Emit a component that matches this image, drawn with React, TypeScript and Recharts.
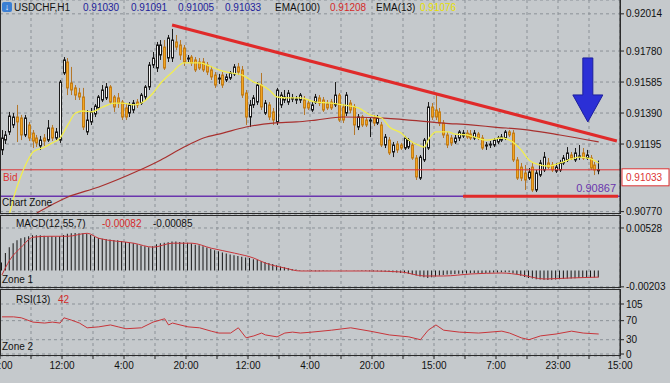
import {
  Bar,
  CartesianGrid,
  ComposedChart,
  Line,
  ReferenceDot,
  ReferenceLine,
  XAxis,
  YAxis,
} from "recharts"

document.body.style.margin = "0"

const timeLabels = ["20:00", "12:00", "4:00", "20:00", "12:00", "4:00", "20:00", "15:00", "7:00", "23:00", "15:00"]
const gridTicks = [0, 8, 16, 24, 32, 40, 48, 56, 64, 72, 80, 88, 96, 104, 112, 120, 128, 136, 144, 152, 160]
const priceTicks = [0.92014, 0.9178, 0.91585, 0.9139, 0.91195, 0.9077]
const macdTicks = [0.00528, -0.00203]
const rsiTicks = [0, 30, 70, 105]

const bidPrice = 0.91033
const zonePrice = 0.90867

// open, high, low, close in points (1e-5)
const candles = [
  [91158, 91283, 91126, 91233], [91220, 91277, 91195, 91252], [91271, 91397, 91252, 91371], [91315, 91390, 91296, 91365],
  [91365, 91441, 91208, 91334], [91359, 91378, 91220, 91252], [91252, 91378, 91239, 91359], [91315, 91334, 91214, 91233],
  [91264, 91283, 91170, 91214], [91233, 91252, 91176, 91202], [91183, 91246, 91158, 91220], [91233, 91258, 91183, 91214],
  [91220, 91346, 91208, 91296], [91296, 91315, 91214, 91233], [91233, 91296, 91220, 91271], [91220, 91598, 91202, 91585],
  [91642, 91742, 91629, 91724], [91711, 91736, 91503, 91548], [91579, 91680, 91503, 91535], [91548, 91566, 91472, 91503],
  [91516, 91548, 91472, 91491], [91491, 91548, 91283, 91302], [91271, 91409, 91252, 91346], [91334, 91422, 91315, 91397],
  [91384, 91447, 91365, 91434], [91422, 91503, 91409, 91491], [91472, 91566, 91459, 91535], [91485, 91579, 91472, 91554],
  [91554, 91566, 91447, 91459], [91491, 91503, 91397, 91428], [91485, 91516, 91422, 91453], [91459, 91472, 91346, 91365],
  [91422, 91447, 91346, 91365], [91390, 91459, 91365, 91441], [91409, 91472, 91390, 91453], [91459, 91478, 91422, 91441],
  [91453, 91516, 91441, 91503], [91491, 91566, 91472, 91554], [91554, 91711, 91535, 91692], [91692, 91774, 91673, 91736],
  [91673, 91837, 91648, 91818], [91755, 91849, 91724, 91818], [91805, 91849, 91661, 91673], [91736, 91881, 91711, 91862],
  [91736, 91919, 91711, 91849], [91837, 91881, 91786, 91805], [91818, 91849, 91724, 91755], [91799, 91818, 91686, 91711],
  [91730, 91755, 91711, 91736], [91742, 91755, 91686, 91705], [91724, 91742, 91648, 91661], [91711, 91736, 91661, 91673],
  [91711, 91736, 91648, 91661], [91692, 91711, 91629, 91648], [91661, 91686, 91598, 91617], [91629, 91648, 91548, 91566],
  [91604, 91636, 91573, 91610], [91629, 91648, 91548, 91566], [91598, 91636, 91585, 91617], [91610, 91654, 91598, 91642],
  [91636, 91698, 91623, 91680], [91680, 91705, 91629, 91648], [91661, 91686, 91485, 91503], [91516, 91535, 91315, 91365],
  [91365, 91472, 91302, 91441], [91441, 91503, 91422, 91485], [91459, 91585, 91441, 91566], [91566, 91642, 91409, 91428],
  [91390, 91472, 91378, 91453], [91441, 91459, 91346, 91365], [91397, 91422, 91315, 91346], [91334, 91548, 91315, 91535],
  [91441, 91522, 91422, 91503], [91472, 91535, 91453, 91491], [91459, 91535, 91441, 91516], [91478, 91510, 91459, 91485],
  [91472, 91497, 91447, 91478], [91472, 91516, 91453, 91503], [91472, 91497, 91378, 91422], [91453, 91472, 91409, 91422],
  [91409, 91459, 91397, 91441], [91459, 91510, 91447, 91491], [91485, 91503, 91434, 91453], [91472, 91491, 91397, 91409],
  [91447, 91472, 91409, 91422], [91459, 91478, 91409, 91422], [91441, 91585, 91428, 91503], [91503, 91516, 91334, 91346],
  [91428, 91447, 91327, 91346], [91390, 91522, 91371, 91503], [91453, 91472, 91390, 91409], [91428, 91447, 91252, 91315],
  [91302, 91384, 91283, 91365], [91365, 91378, 91302, 91315], [91346, 91365, 91302, 91315], [91340, 91365, 91239, 91346],
  [91359, 91378, 91308, 91327], [91327, 91378, 91315, 91359], [91315, 91334, 91176, 91189], [91189, 91258, 91170, 91239],
  [91220, 91239, 91126, 91139], [91145, 91208, 91113, 91189], [91195, 91214, 91139, 91158], [91189, 91202, 91158, 91170],
  [91170, 91246, 91158, 91233], [91176, 91233, 91164, 91220], [91189, 91208, 91095, 91107], [91107, 91126, 90969, 90988],
  [90981, 91126, 90969, 91113], [91095, 91233, 91082, 91220], [91170, 91459, 91158, 91428], [91428, 91453, 91346, 91365],
  [91409, 91516, 91346, 91365], [91397, 91422, 91308, 91327], [91327, 91346, 91233, 91252], [91252, 91271, 91170, 91189],
  [91233, 91252, 91183, 91202], [91208, 91252, 91195, 91233], [91233, 91283, 91214, 91271], [91246, 91283, 91233, 91264],
  [91264, 91283, 91227, 91239], [91258, 91283, 91220, 91233], [91233, 91283, 91220, 91264], [91258, 91271, 91220, 91233],
  [91233, 91252, 91158, 91170], [91183, 91208, 91158, 91189], [91189, 91214, 91170, 91195], [91189, 91233, 91176, 91220],
  [91208, 91246, 91195, 91233], [91220, 91258, 91208, 91239], [91233, 91283, 91220, 91271], [91271, 91283, 91239, 91252],
  [91264, 91283, 91082, 91095], [91095, 91113, 90969, 90981], [91050, 91076, 90962, 90981], [91013, 91063, 90906, 90969],
  [90981, 91044, 90969, 91019], [91050, 91076, 90893, 90906], [90906, 91032, 90893, 91013], [91000, 91095, 90988, 91076],
  [91032, 91145, 91019, 91113], [91076, 91107, 91038, 91050], [91063, 91082, 91019, 91032], [91025, 91076, 91013, 91050],
  [91032, 91095, 91019, 91076], [91076, 91126, 91063, 91107], [91095, 91176, 91082, 91139], [91126, 91145, 91095, 91107],
  [91095, 91170, 91082, 91139], [91113, 91189, 91095, 91120], [91139, 91170, 91095, 91107], [91107, 91158, 91095, 91126],
  [91107, 91126, 91032, 91044], [91063, 91082, 91000, 91032], [91030, 91091, 91005, 91033],
]

// [bar, value]
const ema13 = [
  [2, 90760], [3, 90856], [5, 91000], [7, 91107], [8, 91145], [11, 91176], [13, 91202], [15, 91233], [17, 91315],
  [19, 91390], [21, 91403], [23, 91397], [26, 91428], [29, 91453], [31, 91453], [34, 91441], [36, 91453], [39, 91516],
  [41, 91579], [44, 91648], [47, 91705], [51, 91705], [53, 91692], [56, 91661], [59, 91642], [62, 91629], [65, 91585],
  [67, 91566], [69, 91535], [71, 91491], [74, 91485], [77, 91485], [81, 91459], [85, 91453], [88, 91441], [92, 91422],
  [95, 91378], [98, 91359], [100, 91302], [103, 91264], [105, 91220], [108, 91183], [109, 91176], [110, 91220],
  [112, 91271], [115, 91271], [117, 91258], [120, 91252], [122, 91239], [125, 91220], [129, 91233], [131, 91220],
  [134, 91158], [136, 91095], [139, 91063], [141, 91057], [144, 91076], [147, 91101], [149, 91113], [152, 91101], [154, 91076],
]
const ema100 = [
  [9, 90761], [17, 90862], [25, 90925], [35, 91025], [41, 91095], [47, 91176], [52, 91233], [57, 91264], [63, 91302],
  [70, 91327], [76, 91334], [81, 91346], [88, 91365], [97, 91359], [105, 91346], [114, 91327], [121, 91315], [127, 91302],
  [136, 91283], [144, 91252], [154, 91208],
]

// MACD histogram per bar, 1e-5
const macdHist = [
  100, 216, 290, 339, 376, 400, 413, 425, 437, 437, 437, 430, 425, 425, 420, 425, 440, 455, 462, 465,
  462, 462, 455, 440, 420, 405, 395, 390, 385, 380, 376, 365, 355, 345, 339, 325, 310, 300, 290, 300,
  325, 339, 345, 351, 360, 360, 355, 351, 345, 335, 320, 314, 300, 285, 270, 253, 240, 225, 210, 200,
  191, 180, 170, 160, 154, 140, 130, 115, 105, 92, 80, 65, 50, 40, 30, 20, 12, 6, 2, -2,
  -6, -8, -8, -6, -4, -2, 0, 2, 0, 2, 0, -2, -4, -6, -6, -8, -8, -10, -12, -14,
  -18, -22, -26, -30, -34, -40, -50, -62, -75, -85, -92, -85, -75, -62, -55, -50, -46, -43, -40, -38,
  -36, -34, -32, -30, -30, -30, -28, -26, -24, -22, -20, -22, -35, -50, -65, -80, -92, -100, -108, -112,
  -115, -117, -115, -112, -108, -105, -100, -98, -95, -92, -90, -88, -87, -86, -85,
]
const macdSignal = [
  [0, -55], [2, 129], [5, 290], [8, 413], [12, 425], [17, 425], [22, 462], [25, 400], [34, 339], [39, 290],
  [44, 339], [49, 339], [54, 277], [60, 216], [65, 154], [68, 92], [73, 31], [77, -6], [85, -6], [95, -6],
  [103, -18], [109, -68], [114, -68], [121, -43], [129, -31], [134, -55], [140, -105], [147, -92], [154, -82],
]

const rsi = [
  [0, 78], [3, 78], [5, 76], [8, 67], [11, 65], [13, 67], [15, 65], [16, 76], [18, 71], [20, 65], [22, 55],
  [25, 57], [28, 61], [30, 57], [32, 53], [36, 55], [39, 67], [42, 74], [43, 61], [44, 65], [48, 57], [51, 55],
  [54, 48], [56, 44], [59, 44], [61, 55], [63, 34], [65, 38], [67, 44], [68, 40], [71, 36], [73, 44], [75, 46],
  [77, 44], [80, 46], [85, 50], [90, 55], [95, 48], [100, 40], [105, 36], [108, 30], [110, 50], [112, 61],
  [114, 50], [118, 46], [123, 44], [129, 48], [131, 44], [134, 34], [136, 30], [139, 38], [143, 42], [147, 48],
  [150, 44], [154, 42],
]

const priceRows: any[] = candles.map(([o, h, l, c], i) => ({
  x: i + 0.5,
  o: o / 1e5,
  h: h / 1e5,
  l: l / 1e5,
  c: c / 1e5,
}))
ema13.forEach(([i, v]) => (priceRows[i].e13 = v / 1e5))
ema100.forEach(([i, v]) => (priceRows[i].e100 = v / 1e5))

const macdRows: any[] = macdHist.map((v, i) => ({ x: i + 0.5, hist: v / 1e5 }))
macdSignal.forEach(([i, v]) => (macdRows[i].sig = v / 1e5))

const rsiRows = rsi.map(([i, v]) => ({ x: i + 0.5, rsi: v }))

const font = "'Liberation Sans', Arial, sans-serif"
const axisTick = { fontSize: 10, fill: "#111", fontFamily: font }
const gridColor = "#8b9197"

function Candle(props: any) {
  const { x, y, width, height, payload } = props
  if (!payload || height == null || isNaN(y)) return null
  const top = Math.min(y, y + height)
  const span = Math.abs(height)
  const { o, h, l, c } = payload
  const toY = (p: number) => top + ((h - p) / (h - l || 1)) * span
  const cx = Math.round(x + width / 2)
  const bull = c >= o
  const yo = toY(o)
  const yc = toY(c)
  const bTop = Math.min(yo, yc)
  const bH = Math.max(1, Math.abs(yo - yc))
  return (
    <g>
      <line x1={cx + 0.5} x2={cx + 0.5} y1={top} y2={top + span} stroke={bull ? "#1b1b1b" : "#b4772a"} />
      <rect
        x={cx - 0.5}
        y={bTop}
        width={2}
        height={bH}
        fill={bull ? "#f7f7f7" : "#f2a623"}
        stroke={bull ? "#1b1b1b" : "#c47d16"}
      />
    </g>
  )
}

function BidTag(props: any) {
  const vb = props.viewBox
  if (!vb) return null
  return (
    <g fontFamily={font} fontSize={10} fill="#d33">
      <text x={vb.x + 3} y={vb.y + 11}>Bid</text>
      <rect x={vb.x + vb.width + 2} y={vb.y - 1} width={47} height={17} fill="#fff" stroke="#d33" />
      <text x={vb.x + vb.width + 6} y={vb.y + 11}>0.91033</text>
    </g>
  )
}

function Arrow(props: any) {
  const { cx, cy } = props
  const d = `M${cx},${cy} L${cx - 15},${cy - 27} L${cx - 5},${cy - 27} L${cx - 5},${cy - 64} L${cx + 5},${cy - 64} L${cx + 5},${cy - 27} L${cx + 15},${cy - 27} Z`
  return <path d={d} fill="#2b2fd6" stroke="#1c1f9e" strokeWidth={1} />
}

const box = (top: number, height: number): React.CSSProperties => ({
  position: "absolute",
  left: 0,
  top,
  width: 621,
  height,
  boxSizing: "border-box",
  border: "1px solid #2a2a2a",
  pointerEvents: "none",
})

const txt = (left: number, top: number, color = "#111"): React.CSSProperties => ({
  position: "absolute",
  left,
  top,
  color,
  fontSize: 10,
  lineHeight: "12px",
  whiteSpace: "nowrap",
})

export default function App() {
  return (
    <div
      style={{
        position: "relative",
        width: 670,
        height: 383,
        background: "#c5c9cc",
        overflow: "hidden",
        fontFamily: font,
      }}
    >
      <div style={{ position: "absolute", left: 0, top: 0 }}>
        {/* svg is taller than the plot so the lowest tick label is not clipped */}
        <ComposedChart width={670} height={224} data={priceRows} margin={{ top: 0, right: 0, bottom: 10, left: 0 }}>
          <CartesianGrid stroke={gridColor} strokeDasharray="3 3" />
          <XAxis type="number" dataKey="x" domain={[0, 160]} ticks={gridTicks} hide />
          <YAxis
            orientation="right"
            width={50}
            domain={[0.90755, 0.92101]}
            ticks={priceTicks}
            interval={0}
            allowDataOverflow
            tick={axisTick}
            tickSize={4}
            tickMargin={2}
            stroke="#222"
            tickFormatter={(v: number) => v.toFixed(5)}
          />
          <ReferenceLine y={bidPrice} stroke="#d33" strokeWidth={1} label={<BidTag />} />
          <ReferenceLine
            y={zonePrice}
            stroke="#6a35ad"
            strokeWidth={1.5}
            label={{ value: "0.90867", position: "insideBottomRight", fill: "#6a35ad", fontSize: 11, fontFamily: font, offset: 4 }}
          />
          <Line dataKey="e100" type="monotone" stroke="#a8302e" strokeWidth={1.2} dot={false} connectNulls isAnimationActive={false} />
          <Bar dataKey={(d: any) => [d.l, d.h]} barSize={3} shape={<Candle />} isAnimationActive={false} />
          <Line dataKey="e13" type="monotone" stroke="#f2ee4e" strokeWidth={1.3} dot={false} connectNulls isAnimationActive={false} />
          <ReferenceLine
            segment={[
              { x: 44.4, y: 0.91944 },
              { x: 159.2, y: 0.91214 },
            ]}
            stroke="#e02a2a"
            strokeWidth={3}
          />
          <ReferenceLine
            segment={[
              { x: 119.5, y: zonePrice },
              { x: 159.5, y: zonePrice },
            ]}
            stroke="#e02a2a"
            strokeWidth={3}
          />
          <ReferenceDot x={151.7} y={0.91334} r={1} shape={<Arrow />} />
        </ComposedChart>
      </div>

      <div style={{ position: "absolute", left: 0, top: 215 }}>
        <ComposedChart width={670} height={81} data={macdRows} margin={{ top: 0, right: 0, bottom: 8, left: 0 }}>
          <CartesianGrid stroke={gridColor} strokeDasharray="3 3" />
          <XAxis type="number" dataKey="x" domain={[0, 160]} ticks={gridTicks} hide />
          <YAxis
            orientation="right"
            width={50}
            domain={[-0.00217, 0.00689]}
            ticks={macdTicks}
            interval={0}
            allowDataOverflow
            tick={axisTick}
            tickSize={4}
            tickMargin={2}
            stroke="#222"
            tickFormatter={(v: number) => v.toFixed(5)}
          />
          <Bar dataKey="hist" barSize={1} fill="#151515" isAnimationActive={false} />
          <Line dataKey="sig" type="monotone" stroke="#c8353a" strokeWidth={1} dot={false} connectNulls isAnimationActive={false} />
        </ComposedChart>
      </div>

      <div style={{ position: "absolute", left: 0, top: 289 }}>
        <ComposedChart width={670} height={94} data={rsiRows} margin={{ top: 0, right: 0, bottom: 0, left: 0 }}>
          <CartesianGrid stroke={gridColor} strokeDasharray="3 3" />
          <XAxis
            type="number"
            dataKey="x"
            domain={[0, 160]}
            ticks={gridTicks}
            interval={0}
            height={27}
            tick={axisTick}
            tickSize={3}
            tickMargin={3}
            axisLine={false}
            stroke="#222"
            tickFormatter={(v: number) => (v % 16 === 0 ? timeLabels[v / 16] : "")}
          />
          <YAxis
            orientation="right"
            width={50}
            domain={[-4.2, 136.5]}
            ticks={rsiTicks}
            interval={0}
            allowDataOverflow
            tick={axisTick}
            tickSize={4}
            tickMargin={2}
            stroke="#222"
          />
          <Line dataKey="rsi" type="linear" stroke="#c8353a" strokeWidth={1} dot={false} isAnimationActive={false} />
        </ComposedChart>
      </div>

      <div style={box(-1, 215)} />
      <div style={box(215, 73)} />
      <div style={box(289, 67)} />

      <div
        style={{
          position: "absolute",
          left: 2,
          top: 2,
          width: 10,
          height: 10,
          borderRadius: 2,
          background: "#3b7fd4",
          color: "#fff",
          fontSize: 9,
          lineHeight: "10px",
          textAlign: "center",
        }}
      >
        ↓
      </div>
      <span style={txt(14, 2)}>USDCHF,H1</span>
      <span style={txt(83, 2, "#1d1d9a")}>0.91030</span>
      <span style={txt(131, 2, "#1d1d9a")}>0.91091</span>
      <span style={txt(178, 2, "#1d1d9a")}>0.91005</span>
      <span style={txt(225, 2, "#1d1d9a")}>0.91033</span>
      <span style={txt(275, 2)}>EMA(100)</span>
      <span style={txt(330, 2, "#d42a2a")}>0.91208</span>
      <span style={txt(376, 2)}>EMA(13)</span>
      <span style={txt(420, 2, "#e8e000")}>0.91076</span>

      <span style={txt(2, 197)}>Chart Zone</span>

      <span style={txt(16, 218)}>MACD(12,55,7)</span>
      <span style={txt(102, 218, "#d42a2a")}>-0.00082</span>
      <span style={txt(153, 218)}>-0.00085</span>
      <span style={txt(2, 274)}>Zone 1</span>

      <span style={txt(16, 294)}>RSI(13)</span>
      <span style={txt(58, 294, "#d42a2a")}>42</span>
      <span style={txt(2, 341)}>Zone 2</span>
    </div>
  )
}
